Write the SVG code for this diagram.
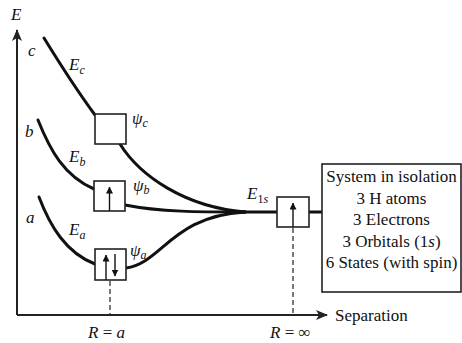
<svg xmlns="http://www.w3.org/2000/svg" width="462" height="343" viewBox="0 0 462 343" font-family="'Liberation Serif', 'Times New Roman', 'DejaVu Serif', serif">
<defs>
<style>
text{font-family:'Liberation Serif','Times New Roman','DejaVu Serif',serif;font-size:17px;fill:#111}
.it{font-style:italic}
.sub{font-size:12px;font-style:italic}
.up{font-style:normal}
.curve{fill:none;stroke:#111;stroke-width:3;stroke-linecap:round}
.box{fill:#fff;stroke:#222;stroke-width:1.6}
.axis{fill:none;stroke:#222;stroke-width:2}
.dash{fill:none;stroke:#222;stroke-width:1.2;stroke-dasharray:5,3}
.spin{stroke:#111;stroke-width:1.4}
</style>
<marker id="ah" viewBox="0 0 12 10" refX="11" refY="5" markerWidth="12" markerHeight="10" markerUnits="userSpaceOnUse" orient="auto">
<path d="M0,0 L12,5 L0,10 L3,5 Z" fill="#222"/>
</marker>
<marker id="sp" viewBox="0 0 7 10" refX="6.5" refY="3.5" markerWidth="7" markerHeight="10" markerUnits="userSpaceOnUse" orient="auto">
<path d="M0,0 L7,3.5 L0,7 Z" fill="#111"/>
</marker>
</defs>
<g id="axes">
<line class="axis" x1="17" y1="315" x2="17" y2="30" marker-end="url(#ah)"/>
<line class="axis" x1="17" y1="315" x2="327" y2="315" marker-end="url(#ah)"/>
<text class="it" x="11" y="20">E</text>
<text x="335" y="321">Separation</text>
<text x="88" y="338"><tspan class="it">R</tspan> = <tspan class="it">a</tspan></text>
<text x="270" y="338"><tspan class="it">R</tspan> = ∞</text>
</g>
<g id="connectors">
<path class="curve" d="M44,38 C60,64 78,92 95,115"/>
<path class="curve" d="M120,144 C140,176 185,207 245,212"/>
<path class="curve" d="M38,120 C50,150 64,176 94,189"/>
<path class="curve" d="M125,205 C160,212 200,212 245,212"/>
<path class="curve" d="M39,197 C50,226 66,253 95,264"/>
<path class="curve" d="M126,268 C162,263 172,216 245,212"/>
<line class="curve" x1="235" y1="212" x2="277" y2="212"/>
<line class="curve" x1="309" y1="212" x2="322" y2="212"/>
<line class="dash" x1="110" y1="281" x2="110" y2="314"/>
<line class="dash" x1="293" y1="228" x2="293" y2="314"/>
</g>
<g id="state-c">
<rect class="box" x="95" y="114" width="31" height="30"/>
<text class="it" x="28" y="56">c</text>
<text class="it" x="69" y="70">E<tspan class="sub" dy="4">c</tspan></text>
<text class="it" x="132" y="124">ψ<tspan class="sub" dy="3">c</tspan></text>
</g>
<g id="state-b">
<rect class="box" x="94" y="181" width="31" height="30"/>
<line class="spin" x1="109.5" y1="211" x2="109.5" y2="187" marker-end="url(#sp)"/>
<text class="it" x="25" y="137">b</text>
<text class="it" x="69" y="162">E<tspan class="sub" dy="4">b</tspan></text>
<text class="it" x="133" y="191">ψ<tspan class="sub" dy="3">b</tspan></text>
</g>
<g id="state-a">
<rect class="box" x="95" y="249" width="31" height="31"/>
<line class="spin" x1="106" y1="280" x2="106" y2="255" marker-end="url(#sp)"/>
<line class="spin" x1="115" y1="254" x2="115" y2="276" marker-end="url(#sp)"/>
<text class="it" x="26" y="223">a</text>
<text class="it" x="69" y="235">E<tspan class="sub" dy="4">a</tspan></text>
<text class="it" x="130" y="256">ψ<tspan class="sub" dy="3">a</tspan></text>
</g>
<g id="state-1s">
<rect class="box" x="277" y="197" width="32" height="30"/>
<line class="spin" x1="293" y1="227" x2="293" y2="203" marker-end="url(#sp)"/>
<text class="it" x="247" y="199">E<tspan class="sub" dy="4"><tspan class="up">1</tspan>s</tspan></text>
</g>
<g id="system">
<rect class="box" x="322" y="164" width="139" height="128"/>
<text x="391.5" y="182" text-anchor="middle">System in isolation</text>
<text x="391.5" y="204" text-anchor="middle">3 H atoms</text>
<text x="391.5" y="225" text-anchor="middle">3 Electrons</text>
<text x="391.5" y="247" text-anchor="middle">3 Orbitals (1<tspan class="it">s</tspan>)</text>
<text x="391.5" y="268" text-anchor="middle">6 States (with spin)</text>
</g>
</svg>
